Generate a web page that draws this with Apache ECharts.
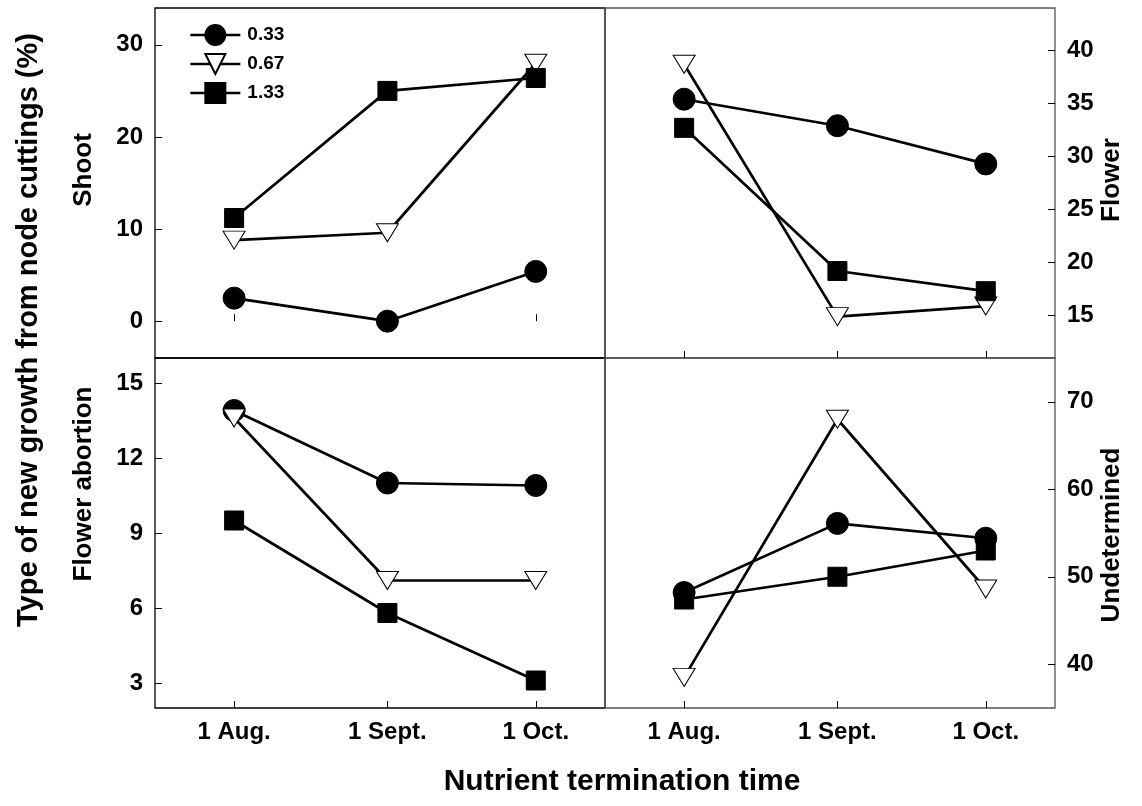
<!DOCTYPE html>
<html><head><meta charset="utf-8">
<script src="https://cdn.jsdelivr.net/npm/echarts@6/dist/echarts.min.js"></script>
<style>html,body{margin:0;padding:0;background:#fff}#c{width:1142px;height:806px}</style>
</head><body><div id="c"></div>
<script>
// ---- data ----
const dateLabels = ['1 Aug.', '1 Sept.', '1 Oct.'];
const dayOfYear = [213, 244, 274];
const seriesNames = ['0.33', '0.67', '1.33'];

const shoot033 = [2.5, 0.0, 5.4];
const shoot067 = [8.8, 9.6, 28.0];
const shoot133 = [11.2, 25.0, 26.4];

const flower033 = [35.4, 32.9, 29.3];
const flower067 = [38.7, 14.9, 15.9];
const flower133 = [32.7, 19.2, 17.3];

const abort033 = [13.9, 11.0, 10.9];
const abort067 = [13.6, 7.1, 7.1];
const abort133 = [9.5, 5.8, 3.1];

const undet033 = [48.2, 56.1, 54.4];
const undet067 = [38.5, 68.0, 48.6];
const undet133 = [47.4, 50.0, 53.0];

const shootTicks = [0, 10, 20, 30];
const flowerTicks = [15, 20, 25, 30, 35, 40];
const abortTicks = [3, 6, 9, 12, 15];
const undetTicks = [40, 50, 60, 70];

const panelNames = ['Shoot', 'Flower', 'Flower abortion', 'Undetermined'];
const yTitle = 'Type of new growth from node cuttings (%)';
const xTitle = 'Nutrient termination time';

// ---- layout / style ----
const FONT = '"Liberation Sans", Arial, sans-serif';
const grids = [
  {left: 155, top: 8, width: 450, height: 350},
  {left: 605, top: 8, width: 450, height: 350},
  {left: 155, top: 358, width: 450, height: 350},
  {left: 605, top: 358, width: 450, height: 350}
];
const yCfg = [
  {min: -4, max: 34, ticks: shootTicks, pos: 'left'},
  {min: 11, max: 44, ticks: flowerTicks, pos: 'right'},
  {min: 2, max: 16, ticks: abortTicks, pos: 'left'},
  {min: 35, max: 75, ticks: undetTicks, pos: 'right'}
];
const panelData = [
  [shoot033, shoot067, shoot133],
  [flower033, flower067, flower133],
  [abort033, abort067, abort133],
  [undet033, undet067, undet133]
];
const symbols = [
  {symbol: 'circle', size: 22, rotate: 0, fill: '#000'},
  {symbol: 'triangle', size: [22, 18], rotate: 180, fill: '#fff'},
  {symbol: 'rect', size: 19, rotate: 0, fill: '#000'}
];

const xAxes = grids.map((g, i) => ({
  type: 'value', gridIndex: i, min: 197, max: 288,
  axisLine: {show: false},
  splitLine: {show: false},
  axisTick: {show: true, inside: true, length: 7, customValues: dayOfYear,
             lineStyle: {color: '#000', width: 1}},
  axisLabel: {show: i >= 2, customValues: dayOfYear, margin: 12,
              formatter: v => dateLabels[dayOfYear.indexOf(v)],
              color: '#000', fontFamily: FONT, fontWeight: 'bold', fontSize: 24}
}));
const yAxes = yCfg.map((c, i) => ({
  type: 'value', gridIndex: i, min: c.min, max: c.max, position: c.pos,
  axisLine: {show: false},
  splitLine: {show: false},
  axisTick: {show: true, inside: true, length: 7, customValues: c.ticks,
             lineStyle: {color: '#000', width: 1}},
  axisLabel: {show: true, customValues: c.ticks, margin: 12,
              color: '#000', fontFamily: FONT, fontWeight: 'bold', fontSize: 24}
}));

const series = [];
panelData.forEach((sets, p) => {
  sets.forEach((vals, k) => {
    const s = symbols[k];
    series.push({
      name: seriesNames[k], type: 'line', xAxisIndex: p, yAxisIndex: p,
      data: vals.map((v, j) => [dayOfYear[j], v]),
      symbol: s.symbol, symbolSize: s.size, symbolRotate: s.rotate,
      showAllSymbol: true, animation: false, z: 2 + k,
      lineStyle: {color: '#000', width: 2.7},
      itemStyle: {color: s.fill, borderColor: '#000', borderWidth: 1, opacity: 1}
    });
  });
});

const txt = (text, x, y, size, rot) => ({
  type: 'text', x: x, y: y, rotation: rot ? Math.PI / 2 : 0,
  style: {text: text, fill: '#000', font: 'bold ' + size + 'px ' + FONT,
          align: 'center', verticalAlign: 'middle'}
});

const option = {
  backgroundColor: '#fff',
  animation: false,
  grid: grids.map((g, i) => Object.assign({show: true, borderColor: i % 2 ? '#555' : '#000',
    borderWidth: 1.3, backgroundColor: 'transparent', containLabel: false}, g)),
  xAxis: xAxes,
  yAxis: yAxes,
  legend: {
    data: seriesNames, orient: 'vertical', left: 184, top: 19,
    itemWidth: 50, itemHeight: 25, itemGap: 7,
    lineStyle: {width: 2.7, color: '#000'},
    textStyle: {color: '#000', fontFamily: FONT, fontWeight: 'bold', fontSize: 19, padding: [0, 0, 0, 2]},
    selectedMode: false
  },
  series: series,
  graphic: [
    txt(yTitle, 29, 330, 29, true),
    txt(panelNames[0], 84, 170, 26, true),
    txt(panelNames[2], 84, 484, 26, true),
    txt(panelNames[1], 1112, 180, 26, true),
    txt(panelNames[3], 1112, 535, 26, true),
    txt(xTitle, 622, 782, 30, false)
  ]
};
const chart = echarts.init(document.getElementById('c'), null, {renderer: 'canvas'});
chart.setOption(option);
</script></body></html>
